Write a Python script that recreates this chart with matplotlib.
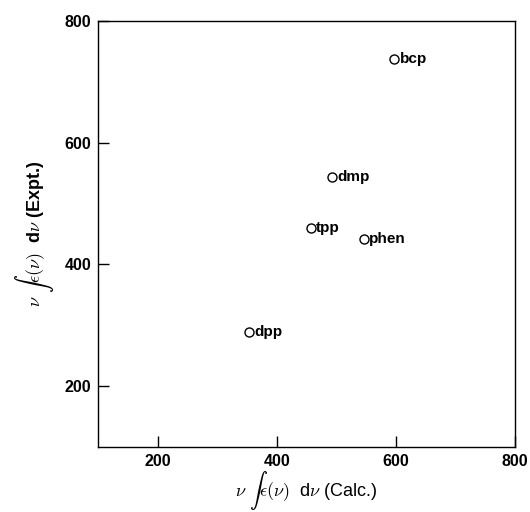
import matplotlib.pyplot as plt

# values
names = ['bcp', 'dmp', 'tpp', 'phen', 'dpp']
calc = [597, 492, 457, 546, 353]
expt = [737, 543, 460, 442, 288]

plt.rcParams['font.family'] = ['Liberation Sans', 'DejaVu Sans']
plt.rcParams['mathtext.fontset'] = 'cm'

fig = plt.figure(figsize=(5.3, 5.12), dpi=100)
ax = fig.add_axes([0.1855, 0.1275, 0.786, 0.8315])

ax.plot(calc, expt, 'o', mfc='white', mec='black', mew=1.0, ms=6.5)
for n, x, y in zip(names, calc, expt):
    ax.annotate(n, (x, y), xytext=(4, 0), textcoords='offset points',
                va='center', ha='left', fontsize=11, fontweight='bold')

ax.set_xlim(100, 800)
ax.set_ylim(100, 800)
ax.set_xticks([200, 400, 600, 800])
ax.set_yticks([200, 400, 600, 800])
ax.tick_params(direction='in', length=8, width=1, labelsize=11.5, pad=5)
for lab in ax.get_xticklabels() + ax.get_yticklabels():
    lab.set_fontweight('bold')
for s in ax.spines.values():
    s.set_linewidth(1.0)

ax.set_xlabel(r'$\nu\ \int\epsilon(\nu)\ $ d$\nu$ (Calc.)', fontsize=13, labelpad=0)
ax.set_ylabel(r'$\nu\ \int\epsilon(\nu)\ $ d$\nu$ (Expt.)', fontsize=13, labelpad=6,
              fontweight='bold')

fig.savefig('out.png', dpi=100)
